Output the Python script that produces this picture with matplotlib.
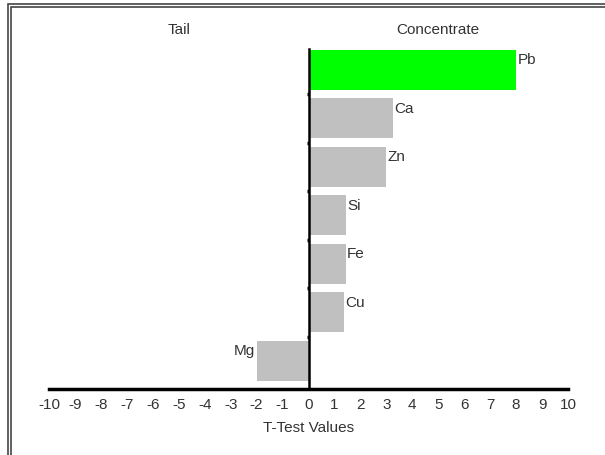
import matplotlib.pyplot as plt
from matplotlib.patches import Rectangle

plt.rcParams['font.family'] = ['Liberation Sans', 'DejaVu Sans']

# T-test values per element
elements = ["Pb", "Ca", "Zn", "Si", "Fe", "Cu", "Mg"]
t_values = [8.0, 3.25, 3.0, 1.43, 1.43, 1.35, -2.0]
bar_colors = ["#00ff00", "#c0c0c0", "#c0c0c0", "#c0c0c0", "#c0c0c0", "#c0c0c0", "#c0c0c0"]
xticks = list(range(-10, 11))

text_color = "#333333"

fig = plt.figure(figsize=(6.05, 4.56), dpi=100)
fig.patch.set_facecolor("white")

# double frame around the picture (right/bottom edges fall outside)
fig.add_artist(Rectangle((8 / 605, -0.05), 1.1, 1 - 5 / 456 + 0.05, transform=fig.transFigure,
                         fill=False, edgecolor="#444444", lw=1.2))
fig.add_artist(Rectangle((11 / 605, -0.05), 1.1, 1 - 8 / 456 + 0.05, transform=fig.transFigure,
                         fill=False, edgecolor="#444444", lw=1.2))

ax = fig.add_axes([49 / 605, 1 - 390 / 456, 519 / 605, 340 / 456])

pos = list(range(len(elements)))
ax.barh(pos, t_values, height=0.82, color=bar_colors, zorder=2)

for p, v, name in zip(pos, t_values, elements):
    if v >= 0:
        ax.text(v + 0.05, p - 0.22, name, ha="left", va="center", fontsize=11, color=text_color)
    else:
        ax.text(v - 0.05, p - 0.22, name, ha="right", va="center", fontsize=11, color=text_color)

ax.set_xlim(-10, 10)
ax.set_ylim(6.58, -0.43)

# zero line with small marks between bars
ax.spines["left"].set_position(("data", 0))
ax.spines["left"].set_linewidth(1.8)
ax.spines["left"].set_zorder(3)
ax.set_yticks([p + 0.5 for p in pos[:-1]])
ax.set_yticklabels([])
ax.tick_params(axis="y", length=1.2, width=2.5, direction="out", color="black")
ax.spines["right"].set_visible(False)
ax.spines["top"].set_visible(False)
ax.spines["bottom"].set_linewidth(2.5)

ax.set_xticks(xticks)
ax.set_xticklabels([str(t) for t in xticks], fontsize=11, color=text_color)
ax.tick_params(axis="x", length=0, pad=6)
ax.set_xlabel("T-Test Values", fontsize=11, color=text_color, labelpad=6)

ax.text(-5, -0.85, "Tail", ha="center", va="center", fontsize=11, color=text_color, clip_on=False)
ax.text(5, -0.85, "Concentrate", ha="center", va="center", fontsize=11, color=text_color, clip_on=False)

fig.savefig("out.png", dpi=100)
